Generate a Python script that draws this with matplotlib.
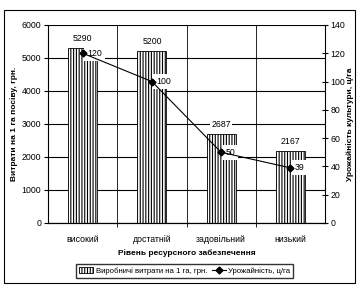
import numpy as np
import matplotlib.pyplot as plt
from matplotlib.patches import Rectangle

categories = ["високий", "достатній", "задовільний", "низький"]
costs = [5290, 5200, 2687, 2167]
yields = [120, 100, 50, 39]

plt.rcParams["font.family"] = ["Liberation Sans", "DejaVu Sans"]
plt.rcParams["font.size"] = 6.3
plt.rcParams["hatch.linewidth"] = 0.8

fig = plt.figure(figsize=(3.59, 2.87), dpi=100)
fig.patches.append(Rectangle((0.012, 0.013), 0.976, 0.952, transform=fig.transFigure,
                             fill=False, edgecolor="black", linewidth=0.8))

ax = fig.add_axes([0.134, 0.223, 0.771, 0.69])
ax2 = ax.twinx()

x = np.arange(len(categories))
ax.bar(x, costs, width=0.42, color="white", edgecolor="black",
       hatch="||||||", linewidth=0.6, zorder=2,
       label="Виробничі витрати на 1 га, грн.")
for xi, v in zip(x, costs):
    ax.annotate(str(v), (xi, v), xytext=(0, 4), textcoords="offset points",
                ha="center", va="bottom",
                bbox=dict(boxstyle="square,pad=0.1", fc="white", ec="none"))

ax.set_xlim(-0.5, 3.5)
ax.set_ylim(0, 6000)
ax.set_yticks(range(0, 6001, 1000))
ax.set_xticks(x)
ax.set_xticklabels(categories)
ax.set_xticks([0.5, 1.5, 2.5], minor=True)
ax.tick_params(axis="x", which="major", length=0, pad=9)
ax.tick_params(axis="x", which="minor", length=3, direction="out")
ax.tick_params(axis="y", length=3, direction="out", pad=2)
ax.grid(axis="y", color="black", linewidth=0.8, zorder=0)
for b in [0.5, 1.5, 2.5]:
    ax.axvline(b, color="black", linewidth=0.6, zorder=0)
ax.set_axisbelow(True)
ax.spines["top"].set_visible(False)
ax.spines["right"].set_visible(False)
ax.set_ylabel("Витрати на 1 га посіву, грн.", fontweight="bold", fontsize=6)
ax.yaxis.set_label_coords(-0.108, 0.5)
ax.set_xlabel("Рівень ресурсного забезпечення", fontweight="bold", fontsize=6,
              va="center")
ax.xaxis.set_label_coords(0.5, -0.152)

ax2.plot(x, yields, color="black", marker="D", markersize=3.5, linewidth=0.8,
         label="Урожайність, ц/га", zorder=5)
for xi, v in zip(x, yields):
    ax2.annotate(str(v), (xi, v), xytext=(3, 0), textcoords="offset points",
                 ha="left", va="center",
                 bbox=dict(boxstyle="square,pad=0.35", fc="white", ec="none"))
ax2.set_ylim(0, 140)
ax2.set_yticks(range(0, 141, 20))
ax2.tick_params(axis="y", length=4, direction="inout", pad=2)
ax2.spines["top"].set_visible(False)
ax2.spines["left"].set_visible(False)
ax2.set_ylabel("Урожайність культури, ц/га", fontweight="bold", fontsize=6,
               rotation=90, va="center")
ax2.yaxis.set_label_coords(1.09, 0.5)

h1, l1 = ax.get_legend_handles_labels()
h2, l2 = ax2.get_legend_handles_labels()
fig.legend(h1 + h2, l1 + l2, loc="center", bbox_to_anchor=(0.515, 0.057), ncol=2,
           frameon=True, fancybox=False, edgecolor="black", fontsize=5.6,
           handlelength=1.8, columnspacing=0.6, handletextpad=0.3, borderpad=0.4)

fig.savefig("out.png", dpi=100)
